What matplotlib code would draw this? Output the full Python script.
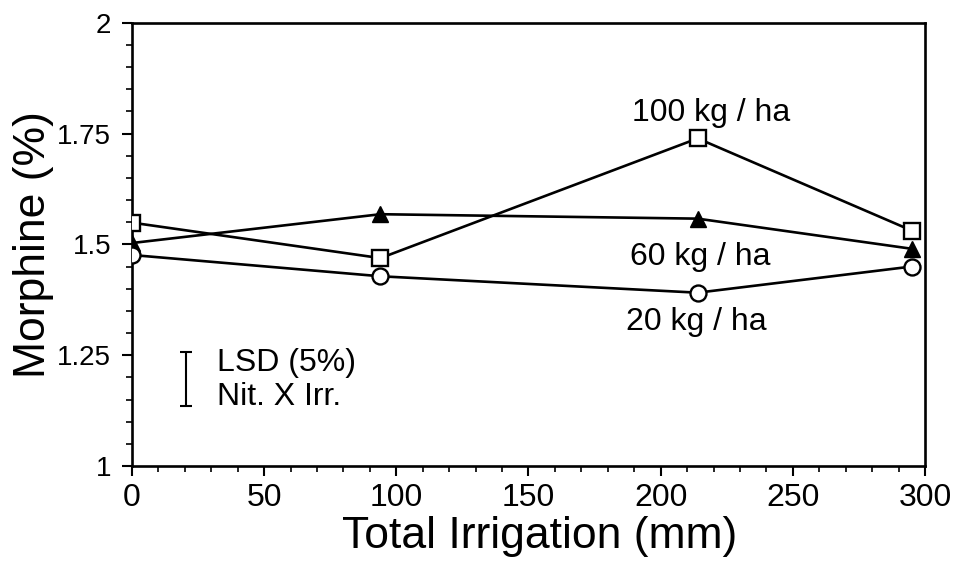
import matplotlib
matplotlib.use("Agg")
import matplotlib.pyplot as plt
from matplotlib.ticker import MultipleLocator, FixedLocator

plt.rcParams['font.family'] = ['Liberation Sans', 'DejaVu Sans']

irrigation = [0, 94, 214, 295]
n100 = [1.549, 1.469, 1.739, 1.531]
n60 = [1.503, 1.568, 1.558, 1.490]
n20 = [1.476, 1.428, 1.391, 1.450]

series_labels = ["100 kg / ha", "60 kg / ha", "20 kg / ha"]
label_pos = [(219, 1.796), (215, 1.471), (213.4, 1.324)]

lsd_x = 20.5
lsd_low, lsd_high = 1.135, 1.257
lsd_text = ["LSD (5%)", "Nit. X Irr."]

xticks = [0, 50, 100, 150, 200, 250, 300]
yticks = [1, 1.25, 1.5, 1.75, 2]
ytick_labels = ["1", "1.25", "1.5", "1.75", "2"]

fig = plt.figure(figsize=(9.66, 5.62), dpi=100)
ax = fig.add_axes([0.1366, 0.1708, 0.8210, 0.7888])

lw = 1.9
ax.plot(irrigation, n100, color='black', lw=lw, marker='s', ms=11.5,
        mfc='white', mec='black', mew=1.7, zorder=3)
ax.plot(irrigation, n60, color='black', lw=lw, marker='^', ms=11,
        mfc='black', mec='black', zorder=3)
ax.plot(irrigation, n20, color='black', lw=lw, marker='o', ms=11.5,
        mfc='white', mec='black', mew=1.7, zorder=3)

for txt, (x, y) in zip(series_labels, label_pos):
    ax.text(x, y, txt, ha='center', va='center', fontsize=23)

lsd_c = (lsd_low + lsd_high) / 2
lsd_h = (lsd_high - lsd_low) / 2
ax.errorbar([lsd_x], [lsd_c], yerr=[lsd_h], color='black', lw=1.5,
            capsize=4, capthick=1.5, fmt='none')
ax.text(32.0, 1.232, lsd_text[0], ha='left', va='center', fontsize=23)
ax.text(32.0, 1.155, lsd_text[1], ha='left', va='center', fontsize=23)

ax.set_xlim(0, 300)
ax.set_ylim(1, 2)
ax.xaxis.set_major_locator(FixedLocator(xticks))
ax.xaxis.set_minor_locator(MultipleLocator(10))
ax.yaxis.set_major_locator(FixedLocator(yticks))
ax.set_yticklabels(ytick_labels)
ax.yaxis.set_minor_locator(MultipleLocator(0.05))

ax.tick_params(axis='both', which='major', direction='out', length=7,
               width=1.5, color='black')
ax.tick_params(axis='both', which='minor', direction='out', length=4,
               width=1.2, color='black')
ax.tick_params(axis='x', which='major', labelsize=23, pad=5)
ax.tick_params(axis='y', which='major', labelsize=20, pad=8)

for s in ax.spines.values():
    s.set_linewidth(1.9)

ax.set_xlabel("Total Irrigation (mm)", fontsize=32)
ax.xaxis.set_label_coords(0.5145, -0.112)
ax.set_ylabel("Morphine (%)", fontsize=32, labelpad=2)

fig.savefig("out.png", dpi=100)
